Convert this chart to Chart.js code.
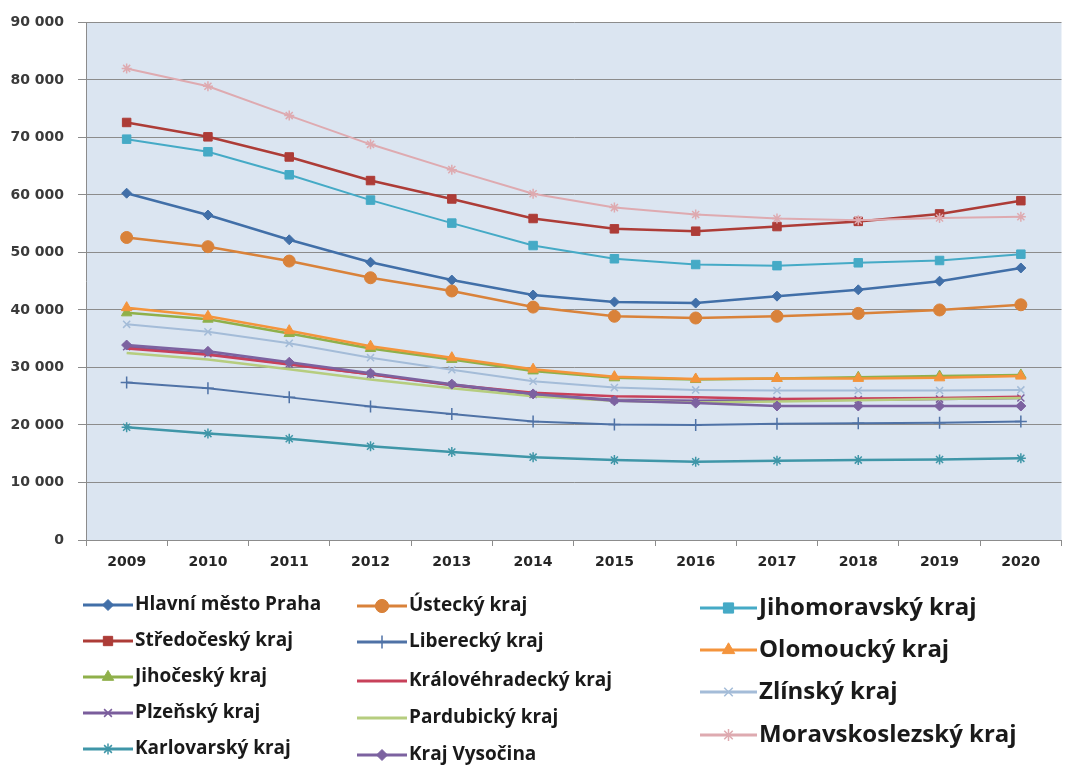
<!DOCTYPE html>
<html>
<head>
<meta charset="utf-8">
<script src="https://cdn.jsdelivr.net/npm/chart.js@4.4.1/dist/chart.umd.min.js"></script>
<style>
  html, body { margin: 0; padding: 0; background: #ffffff; }
  #wrap { width: 1069px; height: 766px; position: relative; }
</style>
</head>
<body>
<div id="wrap"><canvas id="chart" width="1069" height="766"></canvas></div>
<script>
    'use strict';

    const years = ['2009', '2010', '2011', '2012', '2013', '2014', '2015', '2016', '2017', '2018', '2019', '2020'];

    const praha = [60300, 56500, 52200, 48300, 45200, 42600, 41400, 41200, 42400, 43500, 45000, 47300];
    const stredocesky = [72600, 70100, 66600, 62500, 59300, 55900, 54100, 53700, 54500, 55400, 56700, 59000];
    const jihocesky = [39500, 38400, 35900, 33300, 31400, 29400, 28200, 27900, 28100, 28300, 28500, 28700];
    const plzensky = [33600, 32400, 30600, 28800, 26900, 25300, 24400, 24200, 24300, 24400, 24500, 24700];
    const karlovarsky = [19600, 18500, 17600, 16300, 15300, 14400, 13900, 13600, 13800, 13900, 14000, 14200];
    const ustecky = [52600, 51000, 48500, 45600, 43300, 40500, 38900, 38600, 38900, 39400, 40000, 40900];
    const liberecky = [27400, 26400, 24800, 23200, 21900, 20600, 20100, 20000, 20200, 20300, 20400, 20600];
    const kralovehradecky = [33300, 32200, 30500, 28800, 27000, 25600, 25000, 24800, 24500, 24600, 24700, 24900];
    const pardubicky = [32500, 31400, 29700, 27900, 26400, 25000, 24200, 23900, 24100, 24300, 24500, 24700];
    const vysocina = [33900, 32800, 30900, 29000, 27100, 25400, 24200, 23800, 23300, 23300, 23300, 23300];
    const jihomoravsky = [69700, 67500, 63500, 59100, 55100, 51200, 48900, 47900, 47700, 48200, 48600, 49700];
    const olomoucky = [40400, 38900, 36400, 33700, 31700, 29700, 28400, 28000, 28100, 28100, 28200, 28500];
    const zlinsky = [37500, 36200, 34200, 31700, 29600, 27600, 26500, 26100, 26000, 26000, 26000, 26100];
    const moravskoslezsky = [82000, 78900, 73800, 68800, 64400, 60200, 57800, 56600, 55900, 55600, 56000, 56200];

    const regionNames = [
        'Hlavní město Praha', 'Středočeský kraj', 'Jihočeský kraj', 'Plzeňský kraj', 'Karlovarský kraj',
        'Ústecký kraj', 'Liberecký kraj', 'Královéhradecký kraj', 'Pardubický kraj', 'Kraj Vysočina',
        'Jihomoravský kraj', 'Olomoucký kraj', 'Zlínský kraj', 'Moravskoslezský kraj'
    ];
    const regionValues = [
        praha, stredocesky, jihocesky, plzensky, karlovarsky,
        ustecky, liberecky, kralovehradecky, pardubicky, vysocina,
        jihomoravsky, olomoucky, zlinsky, moravskoslezsky
    ];

    // colour, marker, marker radius, line width
    const styles = [
        ['#416fa8', 'rectRot', 5, 2.5],
        ['#ad3c37', 'rect', 6, 2.5],
        ['#8fb04a', 'triangle', 6, 2.5],
        ['#7a5d9c', 'crossRot', 5, 2.5],
        ['#3f96a8', 'star', 5, 2.5],
        ['#d9823a', 'circle', 6, 2.5],
        ['#4f72a6', 'cross', 6, 2],
        ['#c8415a', false, 0, 2.5],
        ['#b6cd7f', false, 0, 2.5],
        ['#7c62a0', 'rectRot', 5, 2.5],
        ['#45aac6', 'rect', 6, 2],
        ['#f4943c', 'triangle', 6, 2.5],
        ['#a4bcd8', 'crossRot', 5, 2],
        ['#deaab0', 'star', 5, 2]
    ];

    const datasets = regionNames.map(function (name, i) {
        let s = styles[i];
        return {
            label: name,
            data: regionValues[i],
            borderColor: s[0],
            backgroundColor: s[0],
            pointStyle: s[1],
            pointRadius: s[2],
            pointBorderWidth: (s[1] === 'cross' || s[1] === 'crossRot' || s[1] === 'star') ? 1.5 : 1,
            pointHoverRadius: s[2],
            borderWidth: s[3],
            tension: 0,
            order: -i
        };
    });

    const plotBackground = {
        id: 'plotBackground',
        beforeDraw: function (chart) {
            let a = chart.chartArea;
            let ctx = chart.ctx;
            ctx.save();
            ctx.fillStyle = '#dbe5f1';
            ctx.fillRect(a.left, a.top, a.right - a.left, a.bottom - a.top);
            ctx.restore();
        }
    };

    // legend laid out in three columns like the original
    const legendColumns = [
        { items: [0, 1, 2, 3, 4], x: 83, len: 50, rows: [605, 641, 677, 713, 749], font: 'bold 19px "Open Sans"', scale: 1.1 },
        { items: [5, 6, 7, 8, 9], x: 357, len: 50, rows: [606, 642, 681, 718, 755], font: 'bold 19px "Open Sans"', scale: 1.1 },
        { items: [10, 11, 12, 13], x: 700, len: 57, rows: [608, 650, 692, 735], font: 'bold 24px "Open Sans"', scale: 1.2 }
    ];

    const columnLegend = {
        id: 'columnLegend',
        afterDraw: function (chart) {
            let ctx = chart.ctx;
            ctx.save();
            legendColumns.forEach(function (col) {
                col.items.forEach(function (idx, r) {
                    let ds = chart.data.datasets[idx];
                    let y = col.rows[r];
                    ctx.strokeStyle = ds.borderColor;
                    ctx.lineWidth = 3;
                    ctx.beginPath();
                    ctx.moveTo(col.x, y);
                    ctx.lineTo(col.x + col.len, y);
                    ctx.stroke();
                    if (ds.pointStyle) {
                        ctx.fillStyle = ds.backgroundColor;
                        ctx.lineWidth = ds.pointBorderWidth;
                        Chart.helpers.drawPoint(ctx, {
                            pointStyle: ds.pointStyle,
                            radius: ds.pointRadius * col.scale,
                            rotation: 0,
                            borderWidth: ds.pointBorderWidth
                        }, col.x + col.len / 2, y);
                    }
                    ctx.fillStyle = '#1a1a1a';
                    ctx.font = col.font;
                    ctx.textBaseline = 'middle';
                    ctx.textAlign = 'left';
                    ctx.fillText(ds.label, col.x + col.len + 2, y);
                });
            });
            ctx.restore();
        }
    };

    new Chart(document.getElementById('chart'), {
        type: 'line',
        data: { labels: years, datasets: datasets },
        options: {
            responsive: false,
            animation: false,
            events: [],
            layout: { padding: { top: 16, right: 6, bottom: 186, left: 0 } },
            plugins: {
                legend: { display: false },
                tooltip: { enabled: false }
            },
            scales: {
                x: {
                    offset: true,
                    grid: {
                        offset: true,
                        drawOnChartArea: false,
                        drawTicks: true,
                        tickLength: 6,
                        color: '#8c8c8c'
                    },
                    border: { color: '#8c8c8c', width: 1 },
                    ticks: {
                        color: '#262626',
                        font: { family: '"DejaVu Sans"', size: 14, weight: 'bold' },
                        padding: 8,
                        maxRotation: 0
                    },
                    afterFit: function (scale) { scale.height = 40; }
                },
                y: {
                    min: 0,
                    max: 90000,
                    ticks: {
                        stepSize: 10000,
                        color: '#3a3a3a',
                        font: { family: '"DejaVu Sans"', size: 14, weight: 'bold' },
                        padding: 14,
                        callback: function (v) {
                            return v === 0 ? '0' : (v / 1000) + ' 000';
                        }
                    },
                    grid: {
                        color: '#8c8c8c',
                        lineWidth: 1,
                        tickLength: 8
                    },
                    border: { color: '#8c8c8c', width: 1 },
                    afterFit: function (scale) { scale.width = 86; }
                }
            }
        },
        plugins: [plotBackground, columnLegend]
    });
</script>
</body>
</html>
